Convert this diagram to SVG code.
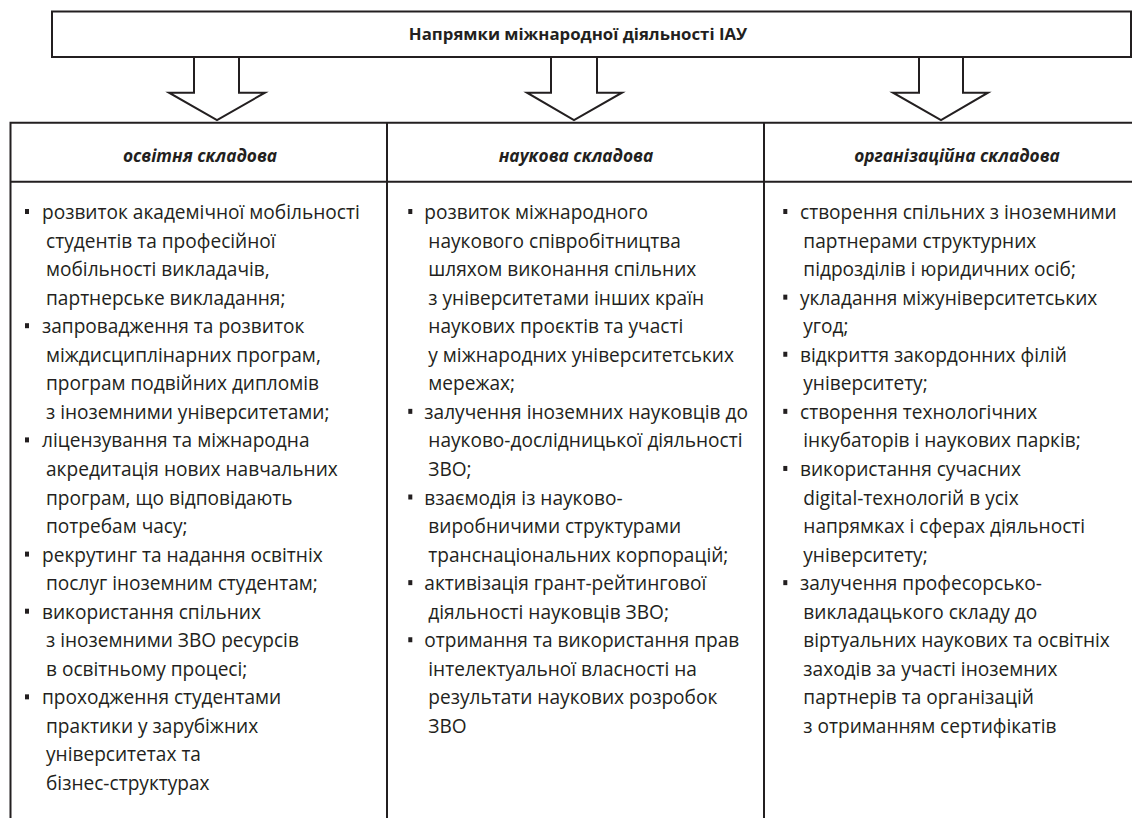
<svg xmlns="http://www.w3.org/2000/svg" width="1132" height="818" viewBox="0 0 1132 818">
<style>
.ln{fill:none;stroke:#231f20;stroke-width:2}
.arrow{fill:#fff;stroke:#231f20;stroke-width:2;stroke-linejoin:miter}
.title{font-family:"Open Sans","Noto Sans","DejaVu Sans",sans-serif;font-weight:bold;font-size:16.8px;fill:#231f20}
.head{font-family:"Open Sans","Noto Sans","DejaVu Sans",sans-serif;font-weight:bold;font-style:italic;font-size:17.3px;fill:#231f20}
.body{font-family:"Open Sans","Noto Sans","DejaVu Sans",sans-serif;font-size:19.1px;fill:#231f20}
.bul{fill:#231f20}
</style>
<defs>
<rect id="b" class="bul" x="0" y="-10" width="4" height="5"/>
</defs>
<rect width="1132" height="818" fill="#fff"/>

<g id="title-node">
<rect class="ln" x="52" y="11.5" width="1079" height="45.5"/>
<text class="title" x="578" y="40" text-anchor="middle">Напрямки міжнародної діяльності ІАУ</text>
</g>

<g id="connectors">
<polygon class="arrow" points="194,57 239,57 239,92.7 265,92.7 217,120 169,92.7 194,92.7"/>
<polygon class="arrow" points="551,57 597,57 597,92.7 622,92.7 574,120 527,92.7 551,92.7"/>
<polygon class="arrow" points="919,57 963,57 963,92.7 988,92.7 941,120 893,92.7 919,92.7"/>
</g>

<g id="table-frame">
<path class="ln" d="M10.5,830 V122.7 H1140 M10.5,181.7 H1140 M387,122.7 V830 M764,122.7 V830"/>
</g>

<g id="col-education">
<text class="head" x="200" y="162" text-anchor="middle">освітня складова</text>
<use href="#b" x="25" y="219"/>
<use href="#b" x="25" y="333.2"/>
<use href="#b" x="25" y="447.4"/>
<use href="#b" x="25" y="561.6"/>
<use href="#b" x="25" y="618.7"/>
<use href="#b" x="25" y="704.35"/>
<text class="body">
<tspan x="42" y="219">розвиток академічної мобільності</tspan>
<tspan x="46" y="247.55">студентів та професійної</tspan>
<tspan x="46" y="276.1">мобільності викладачів,</tspan>
<tspan x="46" y="304.65">партнерське викладання;</tspan>
<tspan x="42" y="333.2">запровадження та розвиток</tspan>
<tspan x="46" y="361.75">міждисциплінарних програм,</tspan>
<tspan x="46" y="390.3">програм подвійних дипломів</tspan>
<tspan x="46" y="418.85">з іноземними університетами;</tspan>
<tspan x="42" y="447.4">ліцензування та міжнародна</tspan>
<tspan x="46" y="475.95">акредитація нових навчальних</tspan>
<tspan x="46" y="504.5">програм, що відповідають</tspan>
<tspan x="46" y="533.05">потребам часу;</tspan>
<tspan x="42" y="561.6">рекрутинг та надання освітніх</tspan>
<tspan x="46" y="590.15">послуг іноземним студентам;</tspan>
<tspan x="42" y="618.7">використання спільних</tspan>
<tspan x="46" y="647.25">з іноземними ЗВО ресурсів</tspan>
<tspan x="46" y="675.8">в освітньому процесі;</tspan>
<tspan x="42" y="704.35">проходження студентами</tspan>
<tspan x="46" y="732.9">практики у зарубіжних</tspan>
<tspan x="46" y="761.45">університетах та</tspan>
<tspan x="46" y="790">бізнес-структурах</tspan>
</text>
</g>

<g id="col-science">
<text class="head" x="576" y="162" text-anchor="middle">наукова складова</text>
<use href="#b" x="408.3" y="219"/>
<use href="#b" x="408.3" y="418.85"/>
<use href="#b" x="408.3" y="504.5"/>
<use href="#b" x="408.3" y="590.15"/>
<use href="#b" x="408.3" y="647.25"/>
<text class="body">
<tspan x="424.3" y="219">розвиток міжнародного</tspan>
<tspan x="428.3" y="247.55">наукового співробітництва</tspan>
<tspan x="428.3" y="276.1">шляхом виконання спільних</tspan>
<tspan x="428.3" y="304.65">з університетами інших країн</tspan>
<tspan x="428.3" y="333.2">наукових проєктів та участі</tspan>
<tspan x="428.3" y="361.75">у міжнародних університетських</tspan>
<tspan x="428.3" y="390.3">мережах;</tspan>
<tspan x="424.3" y="418.85">залучення іноземних науковців до</tspan>
<tspan x="428.3" y="447.4">науково-дослідницької діяльності</tspan>
<tspan x="428.3" y="475.95">ЗВО;</tspan>
<tspan x="424.3" y="504.5">взаємодія із науково-</tspan>
<tspan x="428.3" y="533.05">виробничими структурами</tspan>
<tspan x="428.3" y="561.6">транснаціональних корпорацій;</tspan>
<tspan x="424.3" y="590.15">активізація грант-рейтингової</tspan>
<tspan x="428.3" y="618.7">діяльності науковців ЗВО;</tspan>
<tspan x="424.3" y="647.25">отримання та використання прав</tspan>
<tspan x="428.3" y="675.8">інтелектуальної власності на</tspan>
<tspan x="428.3" y="704.35">результати наукових розробок</tspan>
<tspan x="428.3" y="732.9">ЗВО</tspan>
</text>
</g>

<g id="col-organization">
<text class="head" x="957" y="162" text-anchor="middle">організаційна складова</text>
<use href="#b" x="783.3" y="219"/>
<use href="#b" x="783.3" y="304.65"/>
<use href="#b" x="783.3" y="361.75"/>
<use href="#b" x="783.3" y="418.85"/>
<use href="#b" x="783.3" y="475.95"/>
<use href="#b" x="783.3" y="590.15"/>
<text class="body">
<tspan x="800" y="219">створення спільних з іноземними</tspan>
<tspan x="803.3" y="247.55">партнерами структурних</tspan>
<tspan x="803.3" y="276.1">підрозділів і юридичних осіб;</tspan>
<tspan x="800" y="304.65">укладання міжуніверситетських</tspan>
<tspan x="803.3" y="333.2">угод;</tspan>
<tspan x="800" y="361.75">відкриття закордонних філій</tspan>
<tspan x="803.3" y="390.3">університету;</tspan>
<tspan x="800" y="418.85">створення технологічних</tspan>
<tspan x="803.3" y="447.4">інкубаторів і наукових парків;</tspan>
<tspan x="800" y="475.95">використання сучасних</tspan>
<tspan x="803.3" y="504.5">digital-технологій в усіх</tspan>
<tspan x="803.3" y="533.05">напрямках і сферах діяльності</tspan>
<tspan x="803.3" y="561.6">університету;</tspan>
<tspan x="800" y="590.15">залучення професорсько-</tspan>
<tspan x="803.3" y="618.7">викладацького складу до</tspan>
<tspan x="803.3" y="647.25">віртуальних наукових та освітніх</tspan>
<tspan x="803.3" y="675.8">заходів за участі іноземних</tspan>
<tspan x="803.3" y="704.35">партнерів та організацій</tspan>
<tspan x="803.3" y="732.9">з отриманням сертифікатів</tspan>
</text>
</g>
</svg>
